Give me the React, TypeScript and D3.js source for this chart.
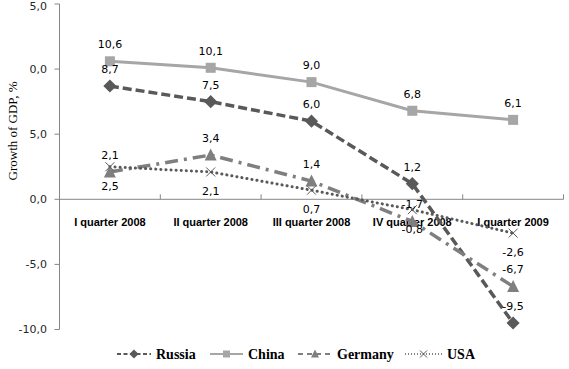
import React from "react";
import * as d3 from "d3";

const categories = ["I quarter 2008", "II quarter 2008", "III quarter 2008", "IV quarter 2008", "I quarter 2009"];
const russia = [8.7, 7.5, 6.0, 1.2, -9.5];
const china = [10.6, 10.1, 9.0, 6.8, 6.1];
const germany = [2.1, 3.4, 1.4, -1.7, -6.7];
const usa = [2.5, 2.1, 0.7, -0.8, -2.6];
const yTicks = [15, 10, 5, 0, -5, -10];
const yTickLabels = ["5,0", "0,0", "5,0", "0,0", "-5,0", "-10,0"];
const seriesNames = ["Russia", "China", "Germany", "USA"];

const fmt = (v: number) => v.toFixed(1).replace(".", ",");

export default function App() {
  const W = 569, H = 369;
  const x = d3.scaleBand<string>().domain(categories).range([59.5, 563.5]);
  const y = d3.scaleLinear().domain([-10, 15]).range([329.5, 4]);
  const cx = (c: string) => (x(c) as number) + x.bandwidth() / 2;
  const line = d3.line<number>().x((_, i) => cx(categories[i])).y((v) => y(v));

  const series = [
    { name: "Russia", data: russia, color: "#595959", dash: "9,4", width: 3.5, marker: "diamond", labelPos: "above", cap: "butt" },
    { name: "China", data: china, color: "#A6A6A6", dash: "none", width: 3, marker: "square", labelPos: "above", cap: "butt" },
    { name: "Germany", data: germany, color: "#7F7F7F", dash: "13,6,3,6", width: 3.5, marker: "triangle", labelPos: "above", cap: "butt" },
    { name: "USA", data: usa, color: "#595959", dash: "0.1,5", width: 3, marker: "x", labelPos: "below", cap: "round" },
  ];

  const marker = (type: string, px: number, py: number, color: string, s: number, key: any) => {
    if (type === "diamond") {
      const sym = d3.symbol().type(d3.symbolDiamond2).size(s * s * 1.1)();
      return <path key={key} d={sym as string} transform={`translate(${px},${py})`} fill={color} />;
    }
    if (type === "square") {
      return <rect key={key} x={px - s / 2} y={py - s / 2} width={s} height={s} fill={color} />;
    }
    if (type === "triangle") {
      const h = s;
      return <path key={key} d={`M${px},${py - h / 2 - 1}L${px + h / 2 + 0.5},${py + h / 2}L${px - h / 2 - 0.5},${py + h / 2}Z`} fill={color} />;
    }
    const r = s / 2;
    return (
      <path key={key} d={`M${px - r},${py - r}L${px + r},${py + r}M${px - r},${py + r}L${px + r},${py - r}`} stroke={color} strokeWidth={1} fill="none" />
    );
  };

  const legendX = [117, 210, 298, 405];
  const legendTextX = [156, 248, 337, 447];
  const legendY = 354;

  return (
    <svg width={W} height={H} style={{ position: "absolute", left: 0, top: 0, background: "#fff" }}>
      <rect width={W} height={H} fill="#fff" />
      <line x1={59.5} x2={59.5} y1={y(15)} y2={y(-10)} stroke="#868686" strokeWidth={1} />
      {yTicks.map((t, i) => (
        <g key={t + "_" + i}>
          <line x1={54.5} x2={59.5} y1={y(t)} y2={y(t)} stroke="#868686" />
          <text x={47} y={Math.max(y(t), 6)} dy="0.35em" textAnchor="end" fontFamily="DejaVu Sans" fontSize={11} fill="#262626">
            {yTickLabels[i]}
          </text>
        </g>
      ))}
      <text transform={`translate(17,131) rotate(-90)`} textAnchor="middle" fontFamily="Liberation Serif" fontSize={13} fill="#000">
        Growth of GDP, %
      </text>
      <line x1={59.5} x2={563.5} y1={y(0)} y2={y(0)} stroke="#868686" />
      {categories.map((c) => (
        <line key={"t" + c} x1={(x(c) as number) + x.bandwidth()} x2={(x(c) as number) + x.bandwidth()} y1={y(0) - 5} y2={y(0)} stroke="#868686" />
      ))}
      {categories.map((c) => (
        <text key={"c" + c} x={cx(c)} y={226} textAnchor="middle" fontFamily="Liberation Sans" fontWeight="bold" fontSize={11} fill="#000">
          {c}
        </text>
      ))}
      {series.map((s) => (
        <path key={s.name} d={line(s.data) as string} fill="none" stroke={s.color} strokeWidth={s.width}
          strokeDasharray={s.dash} strokeLinecap={s.cap as any} />
      ))}
      {series.map((s) =>
        s.data.map((v, i) => marker(s.marker, cx(categories[i]), y(v), s.color, s.marker === "x" ? 9 : s.marker === "triangle" ? 11 : 10, s.name + i))
      )}
      {series.map((s) =>
        s.data.map((v, i) => (
          <text key={"l" + s.name + i} x={cx(categories[i])} y={y(v) + (s.labelPos === "above" ? -17 : 19)} dy="0.35em"
            textAnchor="middle" fontFamily="DejaVu Sans" fontSize={11} fill="#000">
            {fmt(v)}
          </text>
        ))
      )}
      {series.map((s, i) => {
        const x0 = legendX[i], x1 = legendTextX[i] - 5;
        const mx = (x0 + x1) / 2;
        return (
          <g key={"lg" + s.name}>
            <line x1={x0} x2={x1} y1={legendY} y2={legendY} stroke={s.color} strokeWidth={s.name === "USA" ? 1.5 : 2}
              strokeDasharray={s.name === "Russia" ? "4,2.5" : s.name === "Germany" ? "5,4" : s.name === "USA" ? "1,2" : "none"} />
            {marker(s.marker, mx, legendY, s.color, 7, "lm" + i)}
            <text x={legendTextX[i]} y={legendY} dy="0.35em" fontFamily="Liberation Serif" fontWeight="bold" fontSize={14} fill="#000">
              {seriesNames[i]}
            </text>
          </g>
        );
      })}
    </svg>
  );
}
